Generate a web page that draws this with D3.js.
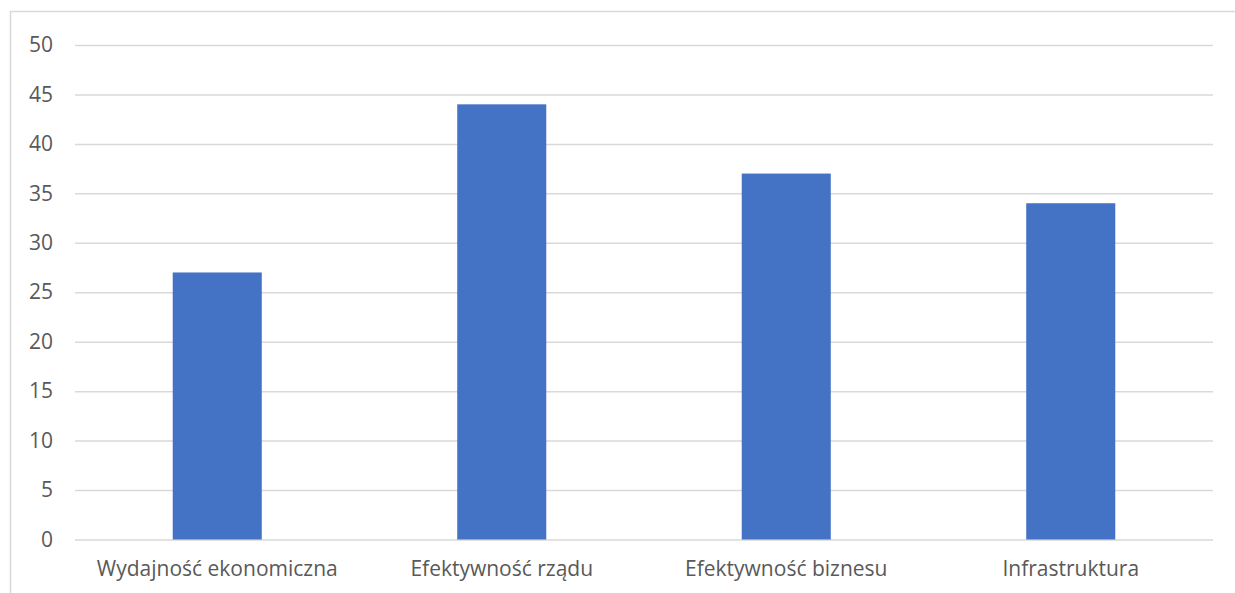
<!DOCTYPE html>
<html>
<head>
<meta charset="utf-8">
<script src="https://cdn.jsdelivr.net/npm/d3@7"></script>
<style>
  html, body { margin: 0; padding: 0; background: #fff; }
  svg { display: block; }
  text { font-family: "Open Sans", sans-serif; fill: #595959; }
</style>
</head>
<body>
<svg id="chart" width="1235" height="593"></svg>
<script>
// Category names and their scores
const categories = ["Wydajność ekonomiczna", "Efektywność rządu", "Efektywność biznesu", "Infrastruktura"];
const values = [27, 44, 37, 34];
const yTicks = [0, 5, 10, 15, 20, 25, 30, 35, 40, 45, 50];

const svg = d3.select("#chart");
const W = 1235, H = 593;
const plot = { left: 75, right: 1213, top: 45, bottom: 539.5 };

// Outer chart frame
svg.append("rect")
  .attr("x", 10.5).attr("y", 11.5)
  .attr("width", W + 10).attr("height", H + 10)
  .attr("fill", "none").attr("stroke", "#d9d9d9").attr("stroke-width", 1.5);

const x = d3.scaleBand()
  .domain(categories)
  .range([plot.left, plot.right])
  .paddingInner(0.687)
  .paddingOuter(0.3435);

const y = d3.scaleLinear()
  .domain([0, 50])
  .range([plot.bottom, plot.top]);

// Horizontal gridlines with value labels
const yAxis = d3.axisLeft(y)
  .tickValues(yTicks)
  .tickSize(-(plot.right - plot.left))
  .tickPadding(22);

svg.append("g")
  .attr("transform", `translate(${plot.left},0)`)
  .call(yAxis)
  .call(g => g.select(".domain").remove())
  .call(g => g.selectAll(".tick line").attr("stroke", "#d9d9d9").attr("stroke-width", 1.5))
  .call(g => g.selectAll(".tick text")
    .attr("fill", "#595959")
    .style("font-family", "'Open Sans', sans-serif")
    .style("font-size", "21px"));

// Bars
svg.append("g")
  .selectAll("rect")
  .data(values)
  .join("rect")
  .attr("x", (d, i) => x(categories[i]))
  .attr("y", d => y(d))
  .attr("width", x.bandwidth())
  .attr("height", d => y(0) - y(d))
  .attr("fill", "#4472c4");

// Category labels
const xAxis = d3.axisBottom(x).tickSize(0).tickPadding(22);
svg.append("g")
  .attr("transform", `translate(0,${plot.bottom})`)
  .call(xAxis)
  .call(g => g.select(".domain").remove())
  .call(g => g.selectAll(".tick text")
    .attr("fill", "#595959")
    .style("font-family", "'Open Sans', sans-serif")
    .style("font-size", "21px"));
</script>
</body>
</html>
